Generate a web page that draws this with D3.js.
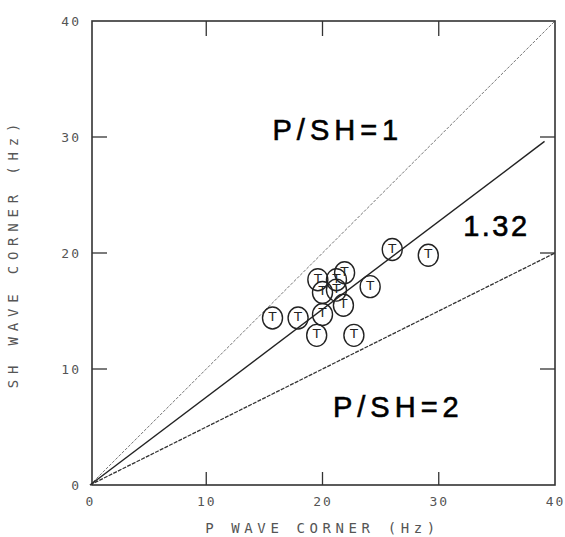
<!DOCTYPE html>
<html>
<head>
<meta charset="utf-8">
<script src="https://cdn.jsdelivr.net/npm/d3@7"></script>
<style>
  body { margin: 0; background: #fff; }
  svg { display: block; }
  .tick text { font-family: "DejaVu Sans Mono", monospace; font-size: 13px; fill: #555; letter-spacing: 2px; }
</style>
</head>
<body>
<svg width="565" height="537"></svg>
<script>
// DATA
var pWave  = [15.7, 17.9, 20.0, 19.5, 22.7, 24.1, 19.6, 21.2, 21.9, 20.0, 21.2, 21.8, 26.0, 29.1];
var shWave = [14.4, 14.4, 14.7, 12.9, 12.9, 17.1, 17.7, 17.7, 18.3, 16.6, 16.8, 15.5, 20.3, 19.8];
var ratios = [1, 1.32, 2];
var ratioEnds = [40, 39.1, 40];
var ratioLabels = ["P/SH=1", "1.32", "P/SH=2"];
var tickValues = [0, 10, 20, 30, 40];

var svg = d3.select("svg"),
  margin = { top: 21, right: 10, bottom: 52, left: 90 },
  x = d3.scaleLinear().domain([0, 40]).range([margin.left, 555]),
  y = d3.scaleLinear().domain([0, 40]).range([485, margin.top]);

// frame
svg.append("rect")
  .attr("x", x(0) + 2).attr("y", y(40))
  .attr("width", x(40) - x(0) - 2).attr("height", y(0) - y(40))
  .attr("fill", "none").attr("stroke", "#333").attr("stroke-width", 1.6);

// axes: labels only, ticks drawn inward below
svg.append("g").attr("transform", "translate(0," + y(0) + ")")
  .call(d3.axisBottom(x).tickValues(tickValues).tickSizeInner(0).tickSizeOuter(0).tickPadding(12).tickFormat(d3.format("d")))
  .call(function (g) { g.select(".domain").remove(); });
svg.append("g").attr("transform", "translate(" + (x(0) + 2) + ",0)")
  .call(d3.axisLeft(y).tickValues(tickValues).tickSizeInner(0).tickSizeOuter(0).tickPadding(11).tickFormat(d3.format("d")))
  .call(function (g) { g.select(".domain").remove(); });

var inner = [10, 20, 30];
var tickG = svg.append("g").attr("stroke", "#333").attr("stroke-width", 1.3);
inner.forEach(function (v) {
  tickG.append("line").attr("x1", x(v)).attr("x2", x(v)).attr("y1", y(0)).attr("y2", y(0) - 13);
  tickG.append("line").attr("x1", x(v)).attr("x2", x(v)).attr("y1", y(40)).attr("y2", y(40) + 15);
  tickG.append("line").attr("y1", y(v)).attr("y2", y(v)).attr("x1", x(0) + 2).attr("x2", x(0) + 17);
  tickG.append("line").attr("y1", y(v)).attr("y2", y(v)).attr("x1", x(40)).attr("x2", x(40) - 15);
});

// axis titles
svg.append("text")
  .attr("x", x(20)).attr("y", 533)
  .attr("text-anchor", "middle")
  .attr("font-family", "DejaVu Sans Mono, monospace").attr("font-size", 14)
  .attr("letter-spacing", 4.6).attr("fill", "#555")
  .text("P WAVE CORNER (Hz)");
svg.append("text")
  .attr("transform", "translate(18," + y(20) + ") rotate(-90)")
  .attr("text-anchor", "middle")
  .attr("font-family", "DejaVu Sans Mono, monospace").attr("font-size", 14)
  .attr("letter-spacing", 5.8).attr("fill", "#555")
  .text("SH WAVE CORNER (Hz)");

// ratio lines
var line = d3.line()
  .x(function (d) { return x(d[0]); })
  .y(function (d) { return y(d[1]); });
var styles = [
  { w: 0.9, dash: "3,1.5", c: "#666" },
  { w: 1.4, dash: null, c: "#222" },
  { w: 1.3, dash: "4,1.2", c: "#333" }
];
ratios.forEach(function (r, i) {
  svg.append("path")
    .datum([[0, 0], [ratioEnds[i], ratioEnds[i] / r]])
    .attr("fill", "none")
    .attr("stroke", styles[i].c)
    .attr("stroke-width", styles[i].w)
    .attr("stroke-dasharray", styles[i].dash)
    .attr("d", line);
});

// ratio labels
var labelPos = [[15.7, 29.7, 5], [32.1, 21.5, 2.5], [20.9, 5.9, 5]];
ratioLabels.forEach(function (t, i) {
  svg.append("text")
    .attr("x", x(labelPos[i][0])).attr("y", y(labelPos[i][1]))
    .attr("font-family", "Liberation Sans, Arial, sans-serif")
    .attr("font-size", 29).attr("letter-spacing", labelPos[i][2])
    .attr("fill", "#000").attr("stroke", "#000").attr("stroke-width", 0.6)
    .text(t);
});

// points
var pts = svg.selectAll(".pt")
  .data(pWave.map(function (d, i) { return { p: d, s: shWave[i] }; }))
  .enter().append("g")
  .attr("class", "pt")
  .attr("transform", function (d) { return "translate(" + x(d.p) + "," + y(d.s) + ")"; });
pts.append("ellipse")
  .attr("rx", 10).attr("ry", 11)
  .attr("fill", "none").attr("stroke", "#222").attr("stroke-width", 1.4);
pts.append("text")
  .attr("text-anchor", "middle").attr("y", 3)
  .attr("font-family", "DejaVu Sans, sans-serif").attr("font-size", 13)
  .attr("fill", "#222")
  .text("T");
</script>
</body>
</html>
